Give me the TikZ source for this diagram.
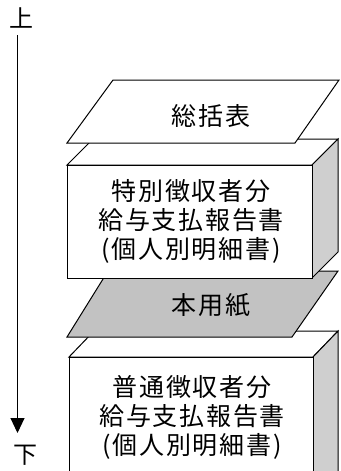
\documentclass[tikz,border=0pt]{standalone}
\usepackage{fontspec}
\newfontfamily\jp[LetterSpace=7]{Noto Sans CJK JP}
\newfontfamily\jpn{Noto Sans CJK JP}
\usetikzlibrary{arrows.meta}
\begin{document}
\begin{tikzpicture}[x=1pt,y=-1pt,line width=1pt,line join=miter,
  front/.style={draw=black,fill=white},
  sideface/.style={draw=black,fill=gray!38},
  sheet/.style={draw=black,fill=white},
  graysheet/.style={draw=black,fill=gray!48},
  lbl/.style={font=\jp\fontsize{25}{29}\selectfont,align=center,inner sep=0pt},
  dir/.style={font=\jpn\fontsize{24}{24}\selectfont,inner sep=0pt}]
\clip (0,0) rectangle (340,471);
\fill[white] (0,0) rectangle (340,471);
% direction arrow
\node[dir] (up) at (21.5,18) {上};
\node[dir] (down) at (25,455) {下};
\coordinate (as) at (17.5,35);
\coordinate (ae) at (17.5,433);
\draw[-{Triangle[width=14pt,length=15pt]}] (as) -- (ae);
% bottom box
\draw[front] (69,357) -- (94,331) -- (338,331) -- (313,357) -- cycle;
\draw[sideface] (313,357) -- (338,331) -- (338,480) -- (313,480) -- cycle;
\draw[front] (69,357) rectangle (313,480);
\node[lbl] (b2) at (192,417) {普通徴収者分\\給与支払報告書\\(個人別明細書)};
% gray sheet
\draw[graysheet] (108,271) -- (338,271) -- (292,337) -- (67,337) -- cycle;
\node[lbl] (s2) at (211,305) {本用紙};
% upper box
\draw[front] (67,165) -- (93,139) -- (338,139) -- (312,165) -- cycle;
\draw[sideface] (312,165) -- (338,139) -- (338,252) -- (312,278) -- cycle;
\draw[front] (67,165) rectangle (312,278);
\node[lbl] (b1) at (191,221) {特別徴収者分\\給与支払報告書\\(個人別明細書)};
% top sheet
\draw[sheet] (113,80) -- (339,80) -- (295,143) -- (67,143) -- cycle;
\node[lbl] (s1) at (211,116) {総括表};
\end{tikzpicture}
\end{document}
